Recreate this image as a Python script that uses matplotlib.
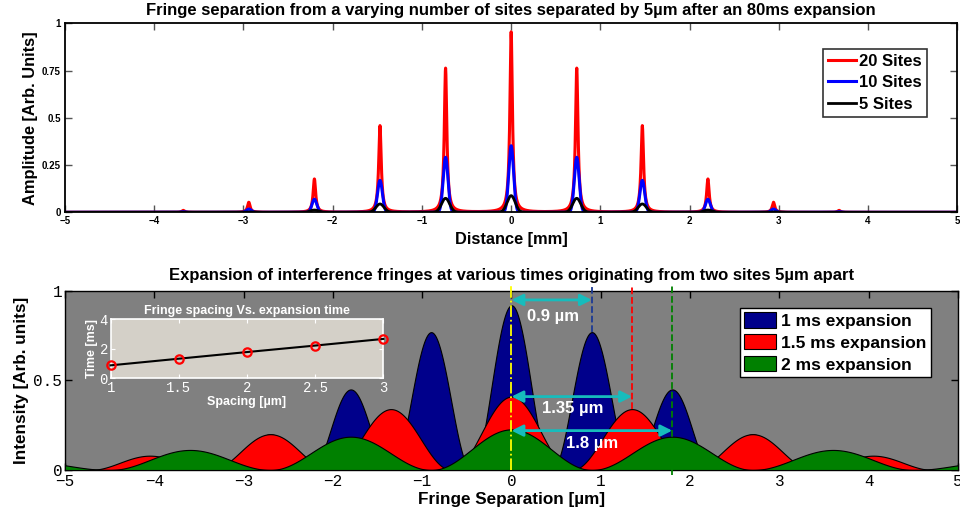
import numpy as np
import matplotlib
matplotlib.use("Agg")
import matplotlib.pyplot as plt
from matplotlib.patches import Patch

plt.rcParams['font.family'] = ['Liberation Sans', 'DejaVu Sans']

# ---------------- Top panel data (peaks) ----------------
peak_pos_mm = [-3.675, -2.94, -2.205, -1.47, -0.735, 0.0, 0.735, 1.47, 2.205, 2.94, 3.675]
heights_20 = [0.010, 0.053, 0.176, 0.458, 0.762, 0.954, 0.762, 0.458, 0.176, 0.053, 0.010]
heights_10 = [0.003, 0.017, 0.069, 0.169, 0.291, 0.352, 0.291, 0.169, 0.069, 0.017, 0.003]
heights_5 = [0.000, 0.002, 0.012, 0.044, 0.074, 0.088, 0.074, 0.044, 0.012, 0.002, 0.000]
series_labels_top = ['20 Sites', '10 Sites', '5 Sites']
top_yticks = [0, 0.25, 0.5, 0.75, 1]
top_yticklabels = ['0', '0.25', '0.5', '0.75', '1']
top_xticks = [-5, -4, -3, -2, -1, 0, 1, 2, 3, 4, 5]

# ---------------- Bottom panel data (fringe lobes) ------
spacing_1ms = 0.9
spacing_15ms = 1.35
spacing_2ms = 1.8
lobes_1ms = [0.07, 0.20, 0.45, 0.77, 0.92, 0.77, 0.45, 0.20, 0.07]        # k = -4..4
lobes_15ms = [0.02, 0.08, 0.20, 0.34, 0.41, 0.34, 0.20, 0.08, 0.02]       # k = -4..4
lobes_2ms = [0.045, 0.112, 0.186, 0.227, 0.186, 0.112, 0.045]             # k = -3..3
series_labels_bot = ['1 ms expansion', '1.5 ms expansion', '2 ms expansion']
bot_xticks = [-5, -4, -3, -2, -1, 0, 1, 2, 3, 4, 5]
bot_yticks = [0, 0.5, 1]

# ---------------- Inset data ----------------
inset_spacing = [1, 1.5, 2, 2.5, 3]
inset_time = [0.88, 1.33, 1.78, 2.22, 2.67]


def peak_curve(x, centers, heights, width, kind='gauss'):
    y = np.zeros_like(x)
    for c, h in zip(centers, heights):
        u = (x - c) / width
        if kind == 'lorentz':
            y += h / (1 + u ** 2)
        else:
            y += h * np.exp(-0.5 * u ** 2)
    return y


def lobe_curve(x, spacing, heights):
    n = len(heights)
    ks = np.arange(n) - (n - 1) // 2
    y = np.zeros_like(x)
    for k, h in zip(ks, heights):
        c = k * spacing
        m = np.abs(x - c) <= spacing / 2
        y[m] += h * np.cos(np.pi * (x[m] - c) / spacing) ** 2
    return y


fig = plt.figure(figsize=(9.6, 5.15), dpi=100)

# ================= TOP =================
ax1 = fig.add_axes([0.0677, 0.5878, 0.9295, 0.3670])
xt = np.linspace(-5, 5, 8001)
y20 = peak_curve(xt, peak_pos_mm, heights_20, 0.017, 'lorentz')
y10 = peak_curve(xt, peak_pos_mm, heights_10, 0.027)
y5 = peak_curve(xt, peak_pos_mm, heights_5, 0.045)
ax1.plot(xt, y20, color='#ff0000', lw=2.2, label=series_labels_top[0])
ax1.plot(xt, y10, color='#0000ff', lw=2.2, label=series_labels_top[1])
ax1.plot(xt, y5, color='#000000', lw=2.0, label=series_labels_top[2])
ax1.set_xlim(-5, 5)
ax1.set_ylim(0, 1)
ax1.set_xticks(top_xticks)
ax1.set_xticklabels([('\u2212%d' % abs(v)) if v < 0 else str(v) for v in top_xticks])
ax1.set_yticks(top_yticks)
ax1.set_yticklabels(top_yticklabels)
ax1.tick_params(direction='in', length=5, width=1, color='#555555', top=True, right=True,
                labelsize=7, pad=3)
for lab in ax1.get_xticklabels() + ax1.get_yticklabels():
    lab.set_fontweight('bold')
for s in ax1.spines.values():
    s.set_linewidth(1.3)
ax1.set_xlabel('Distance [mm]', fontsize=11.8, fontweight='bold', labelpad=4)
ax1.set_ylabel('Amplitude [Arb. Units]', fontsize=11.8, fontweight='bold', labelpad=3)
ax1.set_title('Fringe separation from a varying number of sites separated by 5\u00b5m after an 80ms expansion',
              fontsize=12, fontweight='bold', pad=6)
leg1 = ax1.legend(loc='upper right', bbox_to_anchor=(0.966, 0.866), borderaxespad=0,
                  prop={'weight': 'bold', 'size': 12}, frameon=True, fancybox=False,
                  edgecolor='black', handlelength=1.7, handletextpad=0.2,
                  labelspacing=0.4, borderpad=0.3)
leg1.get_frame().set_linewidth(1.2)

# ================= BOTTOM =================
ax2 = fig.add_axes([0.0677, 0.0874, 0.9302, 0.3476])
ax2.set_facecolor('#808080')
xb = np.linspace(-5, 5, 4001)
yb1 = lobe_curve(xb, spacing_1ms, lobes_1ms)
yb2 = lobe_curve(xb, spacing_15ms, lobes_15ms)
yb3 = lobe_curve(xb, spacing_2ms, lobes_2ms)
navy = '#00008b'
ax2.fill_between(xb, 0, yb1, facecolor=navy, edgecolor='black', lw=0.8, zorder=1)
ax2.fill_between(xb, 0, yb2, facecolor='#ff0000', edgecolor='black', lw=0.8, zorder=2)
ax2.fill_between(xb, 0, yb3, facecolor='#008000', edgecolor='black', lw=0.8, zorder=3)
ax2.set_xlim(-5, 5)
ax2.set_ylim(0, 1)

mono = ['Liberation Mono', 'DejaVu Sans Mono']
ax2.set_xticks(bot_xticks)
ax2.set_xticklabels([('\u2212%d' % abs(v)) if v < 0 else str(v) for v in bot_xticks],
                    family=mono, fontsize=11.5)
ax2.set_yticks(bot_yticks)
ax2.set_yticklabels(['0', '0.5', '1'], family=mono, fontsize=11.5)
ax2.tick_params(direction='in', length=5, width=1, color='black', top=True, right=True, pad=2)
ax2.tick_params(axis='x', pad=3)
for s in ax2.spines.values():
    s.set_linewidth(1.0)
ax2.set_xlabel('Fringe Separation [\u00b5m]', fontsize=12.3, fontweight='bold', labelpad=2)
ax2.set_ylabel('Intensity [Arb. units]', fontsize=12.3, fontweight='bold', labelpad=3)
ax2.set_title('Expansion of interference fringes at various times originating from two sites 5\u00b5m apart',
              fontsize=12, fontweight='bold', pad=8)

# marker lines
ax2.plot([0, 0], [0, 1.03], color='#ffff00', ls='-.', lw=1.3, zorder=5, clip_on=False)
ax2.plot([spacing_1ms] * 2, [lobes_1ms[4 + 1], 1.03], color='#1c3a94', ls='--', lw=1.3,
         zorder=4, clip_on=False)
ax2.plot([spacing_15ms] * 2, [lobes_15ms[4 + 1], 1.03], color='#ff0000', ls='--', lw=1.3,
         zorder=4, clip_on=False)
ax2.plot([spacing_2ms] * 2, [-0.03, 1.03], color='#008000', ls='--', lw=1.3,
         zorder=4, clip_on=False)

cyan = '#17bcbc'
for xe, yy in [(spacing_1ms, 0.95), (spacing_15ms, 0.41), (spacing_2ms, 0.22)]:
    ax2.annotate('', xy=(xe, yy), xytext=(0, yy),
                 arrowprops=dict(arrowstyle='<|-|>', color=cyan, lw=2, mutation_scale=17,
                                 shrinkA=0, shrinkB=0), zorder=6)
ax2.text(0.47, 0.855, '0.9 \u00b5m', color='white', fontsize=12, fontweight='bold',
         ha='center', va='center', zorder=7)
ax2.text(0.68, 0.345, '1.35 \u00b5m', color='white', fontsize=12, fontweight='bold',
         ha='center', va='center', zorder=7)
ax2.text(0.9, 0.15, '1.8 \u00b5m', color='white', fontsize=12, fontweight='bold',
         ha='center', va='center', zorder=7)

handles = [Patch(facecolor=navy, edgecolor='black', lw=0.8),
           Patch(facecolor='#ff0000', edgecolor='black', lw=0.8),
           Patch(facecolor='#008000', edgecolor='black', lw=0.8)]
leg2 = ax2.legend(handles, series_labels_bot, loc='upper right', bbox_to_anchor=(0.97, 0.907),
                  borderaxespad=0, prop={'weight': 'bold', 'size': 12.5}, frameon=True,
                  fancybox=False, edgecolor='black', facecolor='white', framealpha=1,
                  handlelength=1.85, handleheight=1.0, handletextpad=0.3,
                  labelspacing=0.3, borderpad=0.25)
leg2.get_frame().set_linewidth(1.0)
leg2.set_zorder(10)

# ================= INSET =================
ax3 = fig.add_axes([0.1153, 0.2654, 0.2840, 0.1146])
ax3.set_facecolor('#d4d0c8')
ax3.plot(inset_spacing, inset_time, color='black', lw=1.5, marker='o', ms=6,
         mfc='none', mec='#ff0000', mew=1.6, clip_on=False, zorder=3)
ax3.set_xlim(1, 3)
ax3.set_ylim(0, 4)
ax3.set_xticks(inset_spacing)
ax3.set_xticklabels(['1', '1.5', '2', '2.5', '3'], family=mono, fontsize=10, color='white')
ax3.set_yticks([0, 2, 4])
ax3.set_yticklabels(['0', '2', '4'], family=mono, fontsize=10, color='white')
ax3.tick_params(direction='in', length=3, width=0.8, color='white', top=True, right=True, pad=2)
for s in ax3.spines.values():
    s.set_color('white')
    s.set_linewidth(1.2)
ax3.set_title('Fringe spacing Vs. expansion time', color='white', fontsize=9,
              fontweight='bold', pad=4)
ax3.set_xlabel('Spacing [\u00b5m]', color='white', fontsize=9, fontweight='bold', labelpad=1)
ax3.set_ylabel('Time [ms]', color='white', fontsize=9, fontweight='bold', labelpad=1)

fig.savefig('out.png', dpi=100)
